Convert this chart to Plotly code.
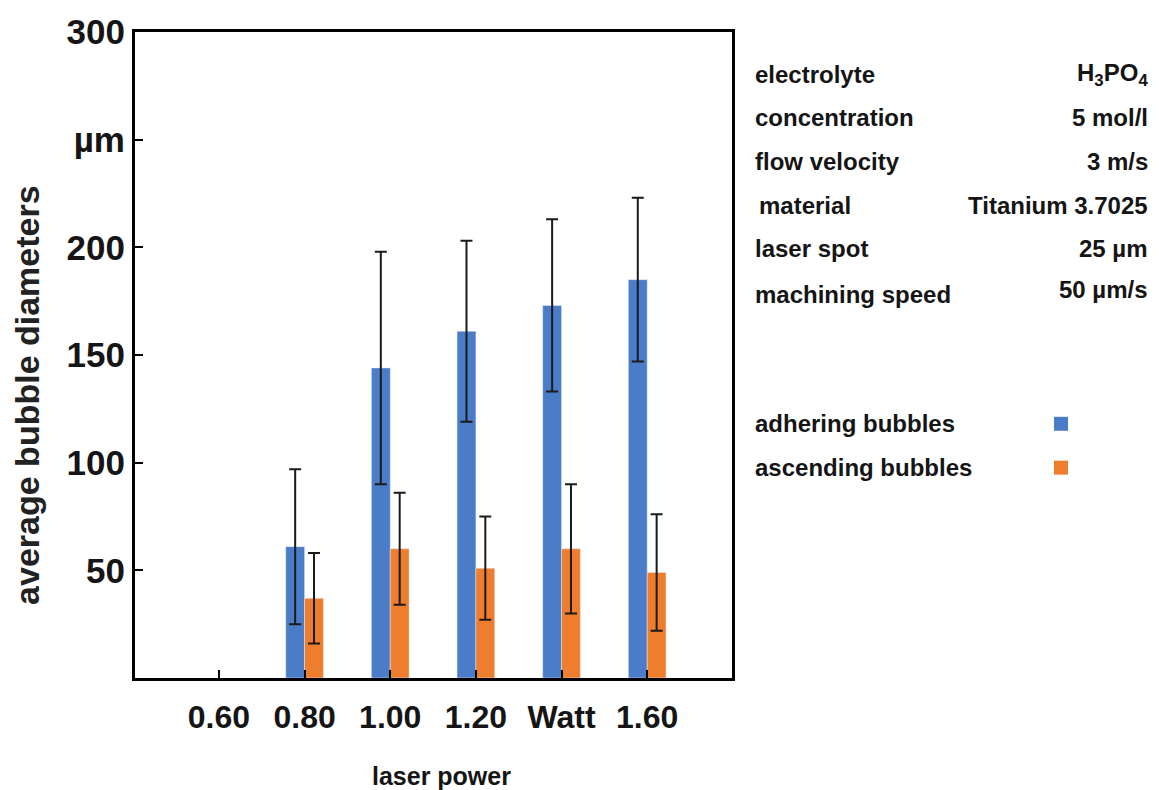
import plotly.graph_objects as go

# ---- data ----
categories = ["0.60", "0.80", "1.00", "1.20", "Watt", "1.60"]
adhering = [None, 61, 144, 161, 173, 185]
adhering_err = [None, 36, 54, 42, 40, 38]
ascending = [None, 37, 60, 51, 60, 49]
ascending_err = [None, 21, 26, 24, 30, 27]

y_tickvals = [50, 100, 150, 200, 250, 300]
y_ticktext = ["50", "100", "150", "200", "µm", "300"]

params_left = ["electrolyte", "concentration", "flow velocity", "material", "laser spot", "machining speed"]
params_right = ["H<sub>3</sub>PO<sub>4</sub>", "5 mol/l", "3 m/s", "Titanium 3.7025", "25 µm", "50 µm/s"]
series_names = ["adhering bubbles", "ascending bubbles"]
colors = ["#4A7CC7", "#EE7D2E"]

# ---- layout geometry (pixels) ----
W, H = 1159, 790
L, R, T, B = 135, 732, 30, 678


def px(x):
    return (x - L) / (R - L)


def py(y):
    return (B - y) / (B - T)


SANS = "Liberation Sans, Arial, sans-serif"
TXT = "#151515"

fig = go.Figure()
fig.add_trace(go.Bar(
    x=categories, y=adhering, name=series_names[0], marker_color=colors[0],
    error_y=dict(type="data", array=adhering_err, color="#1a1a1a", thickness=2, width=6),
    showlegend=False,
))
fig.add_trace(go.Bar(
    x=categories, y=ascending, name=series_names[1], marker_color=colors[1],
    error_y=dict(type="data", array=ascending_err, color="#1a1a1a", thickness=2, width=6),
    showlegend=False,
))

annotations = []
# y-axis title
annotations.append(dict(
    text="<b>average bubble diameters</b>", x=px(27), y=py(394), xref="paper", yref="paper",
    textangle=-90, showarrow=False, font=dict(family=SANS, size=34, color="#222"),
    xanchor="center", yanchor="middle"))
# x-axis title
annotations.append(dict(
    text="<b>laser power</b>", x=px(441), y=py(776), xref="paper", yref="paper",
    showarrow=False, font=dict(family=SANS, size=25, color=TXT),
    xanchor="center", yanchor="middle"))

rows_y = [73, 116, 160, 204, 247, 293]
rows_y_right = [73, 116, 160, 204, 247, 288]
left_x = [753, 753, 753, 757, 753, 753]
for i, (lt, rt) in enumerate(zip(params_left, params_right)):
    annotations.append(dict(
        text="<b>" + lt + "</b>", x=px(left_x[i]), y=py(rows_y[i]), xref="paper", yref="paper",
        showarrow=False, font=dict(family=SANS, size=24, color=TXT),
        xanchor="left", yanchor="middle"))
    annotations.append(dict(
        text="<b>" + rt + "</b>", x=px(1150), y=py(rows_y_right[i]), xref="paper", yref="paper",
        showarrow=False, font=dict(family=SANS, size=24, color=TXT),
        xanchor="right", yanchor="middle"))

legend_y = [423, 467]
shapes = []
for name, c, ly in zip(series_names, colors, legend_y):
    annotations.append(dict(
        text="<b>" + name + "</b>", x=px(753), y=py(ly), xref="paper", yref="paper",
        showarrow=False, font=dict(family=SANS, size=24, color=TXT),
        xanchor="left", yanchor="middle"))
    shapes.append(dict(
        type="rect", xref="paper", yref="paper",
        x0=px(1054), x1=px(1068), y0=py(ly + 7), y1=py(ly - 7),
        fillcolor=c, line=dict(width=0)))

fig.update_layout(
    width=W, height=H,
    margin=dict(l=L, r=W - R, t=T, b=H - B, pad=0),
    paper_bgcolor="white", plot_bgcolor="white",
    barmode="group", bargap=0.56, bargroupgap=0,
    showlegend=False,
    annotations=annotations, shapes=shapes,
    xaxis=dict(
        type="category", range=[-0.98, 5.99],
        showline=True, linecolor="black", linewidth=3, mirror=True,
        ticks="inside", ticklen=8, tickwidth=2, tickcolor="black",
        tickfont=dict(family=SANS, size=32, color=TXT, weight="bold"),
        showgrid=False, zeroline=False, ticklabelstandoff=9,
    ),
    yaxis=dict(
        range=[0, 300], tickvals=y_tickvals, ticktext=y_ticktext,
        showline=True, linecolor="black", linewidth=3, mirror=True,
        ticks="inside", ticklen=8, tickwidth=2, tickcolor="black",
        tickfont=dict(family=SANS, size=35, color=TXT, weight="bold"),
        showgrid=False, zeroline=False, ticklabelstandoff=0,
    ),
)

fig.write_html("out.html")
